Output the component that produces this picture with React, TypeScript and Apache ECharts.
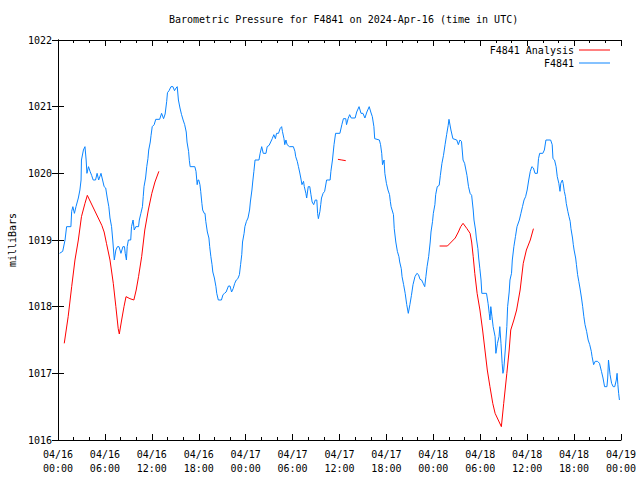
import React, { useEffect, useRef } from "react";
import * as echarts from "echarts";

// hours since 2024-04-16 00:00 UTC, pressure in mb
const stationF4841: [number, number][] = [
  [0.2, 1018.8], [0.6, 1018.83], [0.9, 1019.0], [1.1, 1019.2], [1.65, 1019.2], [1.75, 1019.43], [1.9, 1019.5],
  [2.1, 1019.4], [2.3, 1019.5], [2.6, 1019.63], [2.8, 1019.75], [2.95, 1019.9], [3.0, 1020.2], [3.25, 1020.35],
  [3.45, 1020.4], [3.6, 1020.2], [3.7, 1020.0], [3.9, 1020.1], [4.1, 1020.03], [4.3, 1019.97], [4.5, 1019.9],
  [4.8, 1019.9], [5.0, 1020.0], [5.2, 1019.9], [5.5, 1020.0], [5.7, 1019.9], [5.9, 1019.8], [6.1, 1019.78],
  [6.3, 1019.63], [6.5, 1019.5], [6.65, 1019.33], [6.85, 1019.2], [7.0, 1019.0], [7.1, 1018.85], [7.2, 1018.7],
  [7.4, 1018.85], [7.6, 1018.9], [7.8, 1018.9], [8.05, 1018.8], [8.3, 1018.9], [8.5, 1018.9], [8.6, 1018.8],
  [8.75, 1018.7], [8.85, 1018.9], [9.0, 1019.0], [9.3, 1019.0], [9.4, 1019.2], [9.6, 1019.3], [9.75, 1019.15],
  [9.95, 1019.2], [10.3, 1019.2], [10.4, 1019.3], [10.6, 1019.4], [10.8, 1019.5], [10.9, 1019.65], [11.0, 1019.8],
  [11.2, 1019.93], [11.35, 1020.1], [11.5, 1020.22], [11.6, 1020.35], [11.8, 1020.47], [11.9, 1020.57],
  [12.05, 1020.7], [12.3, 1020.73], [12.5, 1020.81], [13.0, 1020.81], [13.25, 1020.9], [13.5, 1020.82],
  [13.7, 1020.89], [13.9, 1021.08], [14.0, 1021.21], [14.2, 1021.24], [14.45, 1021.3], [14.7, 1021.3],
  [14.9, 1021.24], [15.1, 1021.28], [15.25, 1021.3], [15.4, 1021.1], [15.6, 1020.98], [15.8, 1020.88],
  [16.0, 1020.8], [16.2, 1020.73], [16.4, 1020.62], [16.5, 1020.47], [16.7, 1020.33], [16.8, 1020.19],
  [16.9, 1020.1], [17.5, 1020.1], [17.65, 1020.03], [17.8, 1019.83], [17.9, 1019.9], [18.0, 1019.9],
  [18.15, 1019.83], [18.25, 1019.73], [18.4, 1019.55], [18.5, 1019.45], [18.7, 1019.4], [18.8, 1019.4],
  [18.9, 1019.28], [19.1, 1019.12], [19.3, 1019.03], [19.4, 1018.9], [19.55, 1018.75], [19.7, 1018.63],
  [19.8, 1018.52], [20.0, 1018.43], [20.2, 1018.3], [20.3, 1018.2], [20.5, 1018.1], [20.9, 1018.1],
  [21.1, 1018.18], [21.3, 1018.2], [21.5, 1018.22], [21.8, 1018.31], [22.0, 1018.31], [22.2, 1018.22],
  [22.4, 1018.27], [22.6, 1018.35], [22.8, 1018.4], [23.0, 1018.42], [23.2, 1018.48], [23.35, 1018.63],
  [23.5, 1018.78], [23.6, 1018.97], [23.8, 1019.1], [23.9, 1019.2], [24.1, 1019.28], [24.3, 1019.33],
  [24.5, 1019.45], [24.6, 1019.57], [24.8, 1019.75], [24.9, 1019.87], [25.05, 1020.03], [25.2, 1020.2],
  [25.7, 1020.2], [25.85, 1020.3], [26.05, 1020.4], [26.25, 1020.3], [26.6, 1020.3], [26.75, 1020.4],
  [27.0, 1020.42], [27.2, 1020.47], [27.4, 1020.52], [27.6, 1020.58], [27.8, 1020.52], [27.95, 1020.6],
  [28.2, 1020.6], [28.4, 1020.67], [28.6, 1020.7], [28.7, 1020.63], [28.9, 1020.52], [29.0, 1020.43],
  [29.15, 1020.5], [29.3, 1020.43], [29.6, 1020.4], [30.1, 1020.4], [30.3, 1020.33], [30.4, 1020.25],
  [30.6, 1020.18], [30.75, 1020.1], [30.9, 1020.02], [31.05, 1019.93], [31.2, 1019.83], [31.4, 1019.88],
  [31.5, 1019.8], [31.7, 1019.7], [31.8, 1019.63], [32.0, 1019.8], [32.2, 1019.8], [32.35, 1019.68],
  [32.5, 1019.57], [32.7, 1019.53], [32.9, 1019.6], [33.1, 1019.6], [33.2, 1019.4], [33.3, 1019.32],
  [33.5, 1019.43], [33.6, 1019.53], [33.7, 1019.63], [33.9, 1019.7], [34.1, 1019.73], [34.35, 1019.9],
  [34.8, 1019.9], [34.9, 1020.03], [35.1, 1020.2], [35.3, 1020.43], [35.5, 1020.6], [36.05, 1020.6],
  [36.3, 1020.73], [36.5, 1020.82], [36.8, 1020.82], [36.9, 1020.73], [37.1, 1020.82], [37.3, 1020.88],
  [37.5, 1020.83], [38.0, 1020.83], [38.2, 1020.92], [38.5, 1021.0], [38.75, 1020.9], [39.0, 1020.9],
  [39.25, 1020.83], [39.5, 1020.92], [39.8, 1021.0], [40.0, 1020.92], [40.2, 1020.85], [40.4, 1020.7],
  [40.5, 1020.52], [41.1, 1020.5], [41.25, 1020.43], [41.4, 1020.3], [41.5, 1020.13], [41.7, 1020.2],
  [41.8, 1020.0], [42.0, 1019.85], [42.2, 1019.75], [42.4, 1019.68], [42.5, 1019.58], [42.6, 1019.5],
  [42.9, 1019.38], [43.0, 1019.17], [43.2, 1018.97], [43.4, 1018.83], [43.6, 1018.75], [43.7, 1018.67],
  [43.9, 1018.57], [44.0, 1018.45], [44.2, 1018.33], [44.4, 1018.2], [44.6, 1018.03], [44.8, 1017.9],
  [45.0, 1018.03], [45.2, 1018.17], [45.4, 1018.33], [45.65, 1018.45], [45.9, 1018.5], [46.1, 1018.48],
  [46.3, 1018.41], [46.5, 1018.4], [46.7, 1018.35], [46.9, 1018.3], [47.05, 1018.45], [47.2, 1018.6],
  [47.4, 1018.75], [47.6, 1018.97], [47.7, 1019.12], [47.9, 1019.28], [48.0, 1019.4], [48.2, 1019.53],
  [48.3, 1019.68], [48.5, 1019.8], [48.75, 1019.82], [48.9, 1019.97], [49.1, 1020.15], [49.3, 1020.27],
  [49.5, 1020.43], [49.7, 1020.58], [49.9, 1020.72], [50.0, 1020.81], [50.25, 1020.65], [50.5, 1020.52],
  [51.0, 1020.5], [51.2, 1020.43], [51.4, 1020.5], [51.6, 1020.48], [51.8, 1020.2], [52.0, 1020.15],
  [52.3, 1019.97], [52.5, 1019.8], [52.7, 1019.7], [52.9, 1019.67], [53.1, 1019.45], [53.2, 1019.3],
  [53.4, 1019.15], [53.5, 1019.03], [53.7, 1018.87], [53.8, 1018.73], [53.95, 1018.57], [54.1, 1018.4],
  [54.2, 1018.2], [54.8, 1018.2], [55.0, 1018.05], [55.15, 1017.9], [55.25, 1017.8], [55.35, 1018.0],
  [55.5, 1017.85], [55.65, 1017.7], [55.9, 1017.55], [56.0, 1017.3], [56.2, 1017.45], [56.4, 1017.55],
  [56.5, 1017.7], [56.65, 1017.45], [56.8, 1017.15], [56.9, 1017.0], [57.0, 1017.05], [57.2, 1017.35],
  [57.4, 1017.7], [57.5, 1018.0], [57.7, 1018.22], [57.8, 1018.4], [58.0, 1018.5], [58.1, 1018.7],
  [58.3, 1018.9], [58.5, 1019.05], [58.7, 1019.2], [59.0, 1019.3], [59.2, 1019.4], [59.4, 1019.5],
  [59.6, 1019.6], [59.8, 1019.65], [60.0, 1019.75], [60.2, 1019.9], [60.4, 1020.03], [60.6, 1020.1],
  [60.8, 1020.08], [61.0, 1020.0], [61.3, 1020.0], [61.45, 1020.22], [61.6, 1020.3], [62.0, 1020.3],
  [62.2, 1020.35], [62.4, 1020.5], [63.0, 1020.5], [63.2, 1020.43], [63.3, 1020.22], [63.5, 1020.2],
  [63.7, 1020.1], [63.85, 1019.95], [64.05, 1019.85], [64.2, 1019.73], [64.3, 1019.85], [64.5, 1019.9],
  [64.6, 1019.85], [64.75, 1019.73], [64.9, 1019.65], [65.0, 1019.55], [65.2, 1019.43], [65.35, 1019.35],
  [65.5, 1019.28], [65.6, 1019.17], [65.8, 1019.03], [65.9, 1018.93], [66.0, 1018.85], [66.2, 1018.73],
  [66.3, 1018.63], [66.45, 1018.48], [66.6, 1018.38], [66.75, 1018.28], [66.95, 1018.13], [67.1, 1018.0],
  [67.25, 1017.85], [67.4, 1017.73], [67.6, 1017.63], [67.8, 1017.5], [68.0, 1017.43], [68.2, 1017.33],
  [68.3, 1017.25], [68.5, 1017.13], [68.7, 1017.18], [69.0, 1017.18], [69.25, 1017.15], [69.5, 1017.03],
  [69.7, 1016.93], [69.9, 1016.8], [70.2, 1016.8], [70.3, 1016.93], [70.4, 1017.2], [70.6, 1016.98],
  [70.8, 1016.85], [71.0, 1016.8], [71.2, 1016.8], [71.4, 1016.9], [71.5, 1017.0], [71.6, 1016.83],
  [71.7, 1016.7], [71.8, 1016.6],
];

const analysisSeg1: [number, number][] = [
  [0.8, 1017.45], [1.3, 1017.85], [1.75, 1018.3], [2.17, 1018.7], [2.6, 1019.0], [3.0, 1019.35],
  [3.45, 1019.55], [3.75, 1019.67], [5.6, 1019.22], [5.9, 1019.12], [6.2, 1018.95], [6.65, 1018.7],
  [7.07, 1018.35], [7.4, 1018.0], [7.7, 1017.67], [7.84, 1017.59], [8.14, 1017.8], [8.44, 1018.0],
  [8.7, 1018.15], [9.2, 1018.12], [9.7, 1018.1], [10.0, 1018.25], [10.3, 1018.45], [10.7, 1018.75],
  [11.1, 1019.15], [11.55, 1019.45], [12.0, 1019.7], [12.4, 1019.87], [12.9, 1020.03],
];
const analysisSeg2: [number, number][] = [
  [35.8, 1020.21], [36.3, 1020.2], [36.8, 1020.19],
];
const analysisSeg3: [number, number][] = [
  [48.8, 1018.91], [49.8, 1018.91], [50.3, 1018.97], [50.8, 1019.03], [51.2, 1019.12], [51.5, 1019.2],
  [51.8, 1019.25], [52.3, 1019.17], [52.7, 1019.1], [52.9, 1018.97], [53.1, 1018.75], [53.3, 1018.5],
  [53.6, 1018.2], [53.96, 1017.95], [54.3, 1017.65], [54.6, 1017.35], [54.9, 1017.05], [55.24, 1016.8],
  [55.6, 1016.55], [55.9, 1016.4], [56.3, 1016.3], [56.7, 1016.2], [57.0, 1016.55], [57.4, 1017.0],
  [57.7, 1017.35], [57.9, 1017.65], [58.3, 1017.8], [58.65, 1017.95], [59.1, 1018.25], [59.5, 1018.65],
  [59.9, 1018.85], [60.4, 1019.0], [60.8, 1019.17],
];

const FONT = "'DejaVu Sans Mono', 'Liberation Mono', monospace";
const BLUE = "#0a84ff";
const RED = "#ff0000";

function fmtTime(v: number): string {
  const day = 16 + Math.floor(v / 24);
  const hh = Math.round(v % 24);
  return `04/${day}\n${hh < 10 ? "0" + hh : hh}:00`;
}

export default function App() {
  const ref = useRef<HTMLDivElement>(null);
  useEffect(() => {
    if (!ref.current) return;
    const chart = echarts.init(ref.current, undefined, { renderer: "svg" });
    const analysisData: any[] = [
      ...analysisSeg1,
      [24, "-"],
      ...analysisSeg2,
      [40, "-"],
      ...analysisSeg3,
    ];
    const tickCommon = {
      axisLine: { show: true, lineStyle: { color: "#000", width: 1 } },
      axisTick: { show: true, inside: true, length: 6, lineStyle: { color: "#000" } },
      minorTick: { show: true, splitNumber: 3, length: 3, lineStyle: { color: "#000" } },
      splitLine: { show: false },
      minorSplitLine: { show: false },
    };
    const legendCommon = {
      right: 25,
      align: "right",
      icon: "rect",
      itemWidth: 31,
      itemHeight: 1,
      textStyle: { fontFamily: FONT, fontSize: 10, color: "#000" },
    };
    chart.setOption({
      animation: false,
      backgroundColor: "#fff",
      title: {
        text: "Barometric Pressure for F4841 on 2024-Apr-16 (time in UTC)",
        left: 164,
        top: 9,
        textStyle: { fontFamily: FONT, fontSize: 10, fontWeight: "normal", color: "#000" },
      },
      legend: [
        { ...legendCommon, data: ["F4841 Analysis"], top: 40 },
        { ...legendCommon, data: ["F4841"], top: 53 },
      ],
      grid: { left: 58, right: 19, top: 40, bottom: 40, containLabel: false, outerBoundsMode: "none" },
      xAxis: [
        {
          type: "value",
          min: 0,
          max: 72,
          interval: 6,
          position: "bottom",
          ...tickCommon,
          axisLabel: {
            show: true,
            formatter: fmtTime,
            fontFamily: FONT,
            fontSize: 10,
            color: "#000",
            lineHeight: 14,
            margin: 7,
            showMinLabel: true,
            showMaxLabel: true,
          },
        },
        {
          type: "value",
          min: 0,
          max: 72,
          interval: 6,
          position: "top",
          ...tickCommon,
          axisLabel: { show: false },
        },
      ],
      yAxis: [
        {
          type: "value",
          min: 1016,
          max: 1022,
          interval: 1,
          position: "left",
          name: "milliBars",
          nameLocation: "middle",
          nameRotate: 90,
          nameGap: 41,
          nameTextStyle: { fontFamily: FONT, fontSize: 10, color: "#000" },
          ...tickCommon,
          minorTick: { show: false },
          axisLabel: {
            fontFamily: FONT,
            fontSize: 10,
            color: "#000",
            margin: 6,
            formatter: (v: number) => String(v),
          },
        },
        {
          type: "value",
          min: 1016,
          max: 1022,
          interval: 1,
          position: "right",
          ...tickCommon,
          minorTick: { show: false },
          axisLabel: { show: false },
        },
      ],
      series: [
        {
          name: "F4841 Analysis",
          type: "line",
          data: analysisData,
          symbol: "none",
          showSymbol: false,
          connectNulls: false,
          lineStyle: { color: RED, width: 1 },
          itemStyle: { color: RED },
          xAxisIndex: 0,
          yAxisIndex: 0,
        },
        {
          name: "F4841",
          type: "line",
          data: stationF4841,
          symbol: "none",
          showSymbol: false,
          lineStyle: { color: BLUE, width: 1 },
          itemStyle: { color: BLUE },
          xAxisIndex: 0,
          yAxisIndex: 0,
        },
      ],
    });
    return () => chart.dispose();
  }, []);
  return (
    <div
      ref={ref}
      style={{ position: "fixed", left: 0, top: 0, width: 640, height: 480, background: "#fff" }}
    />
  );
}
